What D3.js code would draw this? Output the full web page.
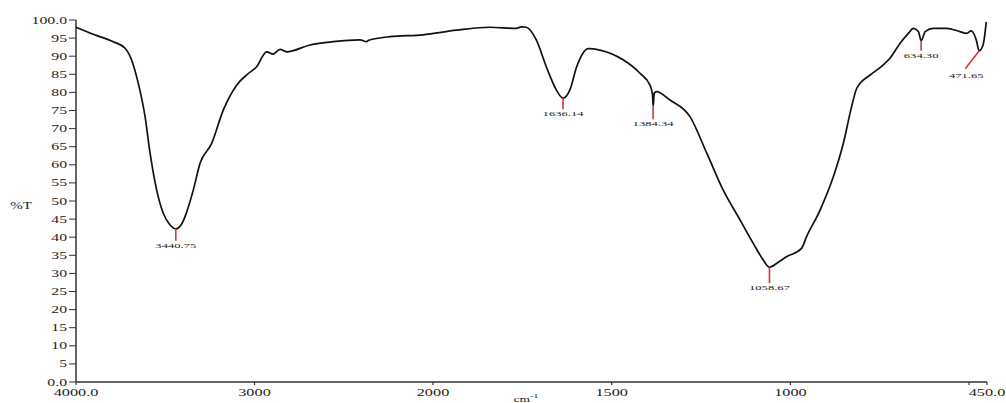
<!DOCTYPE html>
<html>
<head>
<meta charset="utf-8">
<script src="https://cdn.jsdelivr.net/npm/d3@7"></script>
<style>
  body { margin: 0; background: #fff; }
  text { font-family: "Liberation Serif", "Times New Roman", serif; fill: #222; }
</style>
</head>
<body>
<div id="chart"></div>
<script>
// Spectrum: wavenumber (cm-1) and transmittance (%T)
const wavenumbers = [4000, 3900, 3791, 3725, 3688, 3651, 3613, 3585, 3548, 3511, 3475, 3441, 3410, 3389,
  3343, 3305, 3240, 3175, 3100, 3040, 2988, 2932, 2895, 2857, 2820, 2689, 2559, 2409, 2372, 2360, 2241,
  2056, 1934, 1841, 1767, 1753, 1739, 1711, 1683, 1655, 1636, 1617, 1598, 1565, 1533, 1468, 1421, 1393,
  1386, 1384, 1381, 1375, 1337, 1281, 1234, 1188, 1141, 1104, 1076, 1059, 1035, 1011, 969, 955, 917, 880,
  852, 829, 815, 805, 777, 740, 721, 693, 670, 656, 642, 634, 623, 600, 563, 526, 507, 494, 480, 472, 461, 452];
const transmittance = [98.0, 96.0, 94.0, 92.2, 88.9, 82.5, 73.3, 63.2, 53.0, 46.6, 43.5, 42.3, 43.5, 45.7,
  53.0, 60.4, 65.9, 75.1, 82.0, 85.0, 87.1, 91.2, 90.6, 91.9, 91.2, 93.1, 94.0, 94.5, 94.0, 94.4, 95.4,
  95.9, 97.2, 98.0, 97.7, 98.1, 98.0, 94.5, 87.1, 80.7, 78.4, 80.7, 87.1, 92.1, 91.7, 89.0, 85.3, 82.0,
  79.5, 76.2, 79.8, 80.2, 77.9, 73.3, 63.2, 53.0, 44.8, 38.3, 33.7, 31.7, 33.0, 34.6, 36.9, 40.1, 47.5, 56.7,
  65.9, 76.0, 81.0, 82.5, 84.8, 87.6, 89.5, 93.6, 96.3, 97.7, 96.8, 94.3, 96.8, 97.7, 97.7, 96.8, 96.3, 97.0, 94.5, 91.5, 93.1, 99.5];

// Picked peaks
const peakWn = [3440.75, 1636.14, 1384.34, 1058.67, 634.30, 471.65];
const peakT = [42.3, 78.4, 76.2, 31.7, 94.3, 91.5];

// Axis ticks
const xTicks = [4000, 3000, 2000, 1500, 1000, 500, 450];
const xTickLabels = ["4000.0", "3000", "2000", "1500", "1000", "", "450.0"];
const yTicks = d3.range(0, 101, 5);
const yTickLabels = yTicks.map(v => v === 100 ? "100.0" : v === 0 ? "0.0" : String(v));

const width = 1006, height = 403;
const svg = d3.select("#chart").append("svg")
    .attr("width", width)
    .attr("height", height);

// the instrument doubles the scale below 2000 cm-1
const x = d3.scaleLinear().domain([4000, 2000, 450]).range([76, 433, 987]);
const y = d3.scaleLinear().domain([0, 100]).range([382, 20]);

// horizontally stretched lettering like the original print
function label(g, tx, ty, str, size, sx, anchor) {
    return g.append("text")
        .attr("transform", `translate(${tx},${ty}) scale(${sx},1)`)
        .attr("text-anchor", anchor)
        .style("font-size", size + "px")
        .text(str);
}

// Axes
const axisG = svg.append("g").attr("stroke", "#333").attr("stroke-width", 1.5);
axisG.append("line").attr("x1", x(4000)).attr("x2", x(450)).attr("y1", y(0)).attr("y2", y(0));
axisG.append("line").attr("x1", x(4000)).attr("x2", x(4000)).attr("y1", y(0)).attr("y2", y(100));

axisG.selectAll(".yt").data(yTicks).enter().append("line")
    .attr("x1", x(4000) - 7).attr("x2", x(4000))
    .attr("y1", d => y(d)).attr("y2", d => y(d))
    .attr("stroke-width", 1);
axisG.selectAll(".xt").data(xTicks).enter().append("line")
    .attr("x1", d => x(d)).attr("x2", d => x(d))
    .attr("y1", y(0)).attr("y2", y(0) + 3)
    .attr("stroke-width", 1.2);

const textG = svg.append("g");
yTicks.forEach((v, i) => label(textG, 67, y(v) + 3.5, yTickLabels[i], 10.5, 1.5, "end"));
xTicks.forEach((v, i) => {
    if (xTickLabels[i]) label(textG, x(v), 396, xTickLabels[i], 10.5, 1.55, "middle");
});
label(textG, 21, 209, "%T", 10, 1.5, "middle");
const unit = label(textG, 526, 401.5, "cm", 9, 1.5, "middle");
unit.append("tspan").attr("dy", -4).style("font-size", "7px").text("-1");

// Spectrum
const pts = wavenumbers.map((w, i) => [w, transmittance[i]]);
const line = d3.line()
    .x(d => x(d[0]))
    .y(d => y(d[1]))
    .curve(d3.curveMonotoneX);

svg.append("path")
    .datum(pts)
    .attr("fill", "none")
    .attr("stroke", "#111")
    .attr("stroke-width", 1.7)
    .attr("stroke-linejoin", "round")
    .attr("d", line);

// Peak markers: red tick under each minimum, value below it
const markLen = [12, 11, 13, 16, 10, 0];
const peakG = svg.append("g");
peakWn.forEach((w, i) => {
    const px = x(w), py = y(peakT[i]);
    if (markLen[i] > 0) {
        peakG.append("line")
            .attr("x1", px).attr("x2", px)
            .attr("y1", py).attr("y2", py + markLen[i])
            .attr("stroke", "#e0303a").attr("stroke-width", 1.6);
        label(peakG, px, py + markLen[i] + 7, w.toFixed(2), 7, 1.8, "middle");
    } else {
        // last peak sits on the right edge, so its label is pulled down-left
        peakG.append("line")
            .attr("x1", px).attr("x2", px - 14)
            .attr("y1", py).attr("y2", py + 18)
            .attr("stroke", "#e0303a").attr("stroke-width", 1.6);
        label(peakG, px - 13, py + 27, w.toFixed(2), 7, 1.8, "middle");
    }
});
</script>
</body>
</html>
